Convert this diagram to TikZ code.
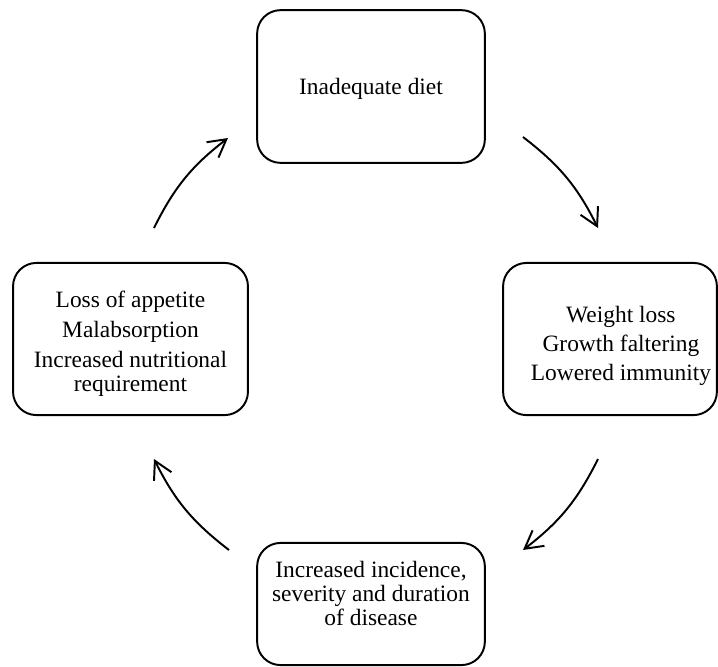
\documentclass[tikz,border=0pt]{standalone}
\usepackage{fontspec}
\setmainfont{Liberation Serif}
\usetikzlibrary{arrows.meta, positioning}
\tikzset{
>={Straight Barb[length=9pt,width=10pt]}, % open arrow heads
cyclebox/.style={draw, line width=1pt, rounded corners=12pt}, % the four boxes of the cycle
boxtext/.style={align=center, font=\fontsize{12}{12.3}\selectfont}, % text set in a box
cyclearrow/.style={->, line width=1pt, bend left=13}, % curved arrows between the boxes
}

\begin{document}
\begin{tikzpicture}[x=0.018cm, y=-0.018cm]
        \useasboundingbox (0,0) rectangle (718,666);

        \node[cyclebox, minimum width=4.1cm, minimum height=2.75cm] (diet) at (371,86.5) {};
        \node[cyclebox, minimum width=3.85cm, minimum height=2.74cm] (signs) at (610,339) {};
        \node[cyclebox, minimum width=4.1cm, minimum height=2.2cm] (disease) at (371,604) {};
        \node[cyclebox, minimum width=4.23cm, minimum height=2.74cm] (causes) at (130.5,339) {};

        \node[boxtext, yshift=-1pt] (diettext) at (diet.center) {Inadequate diet};
        \node[boxtext, xshift=5.6pt, yshift=-3.6pt] (signstext) at (signs.center)
            {Weight loss\\[2.7pt] Growth faltering\\[2.7pt] Lowered immunity};
        \node[boxtext, yshift=5.5pt] (diseasetext) at (disease.center)
            {Increased incidence,\\ severity and duration\\ of disease};
        \node[boxtext, yshift=-2.5pt] (causestext) at (causes.center)
            {Loss of appetite\\[3pt] Malabsorption\\[3pt] Increased nutritional\\ requirement};

        % free ends of the arrows
        \coordinate (a1) at (523,137); \coordinate (b1) at (598,228);
        \coordinate (a2) at (598,459); \coordinate (b2) at (523,550);
        \coordinate (a3) at (229,550); \coordinate (b3) at (154,459);
        \coordinate (a4) at (154,228); \coordinate (b4) at (228,138);

        \draw (a1) edge[cyclearrow] (b1)
              (a2) edge[cyclearrow] (b2)
              (a3) edge[cyclearrow] (b3)
              (a4) edge[cyclearrow] (b4);
    \end{tikzpicture}
\end{document}
